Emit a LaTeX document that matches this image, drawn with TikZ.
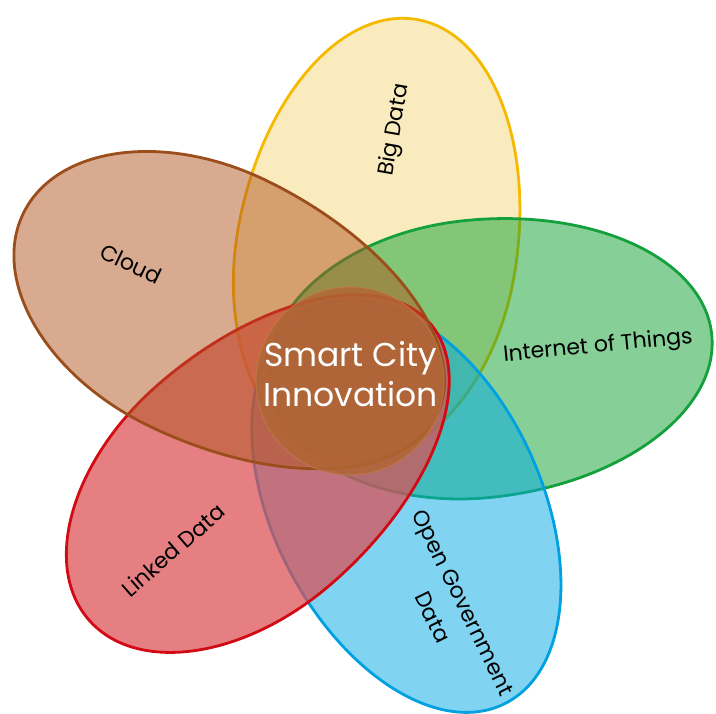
\documentclass[tikz,border=0pt]{standalone}
\usepackage{fontspec}
\setmainfont{Poppins}
\definecolor{ydraw}{RGB}{245,185,0}
\definecolor{yfill}{RGB}{245,215,125}
\definecolor{gdraw}{RGB}{20,160,60}
\definecolor{gfill}{RGB}{13,161,49}
\definecolor{bdraw}{RGB}{0,160,225}
\definecolor{bfill}{RGB}{1,169,229}
\definecolor{rdraw}{RGB}{210,10,20}
\definecolor{rfill}{RGB}{220,78,82}
\definecolor{cdraw}{RGB}{155,78,27}
\definecolor{cfill}{RGB}{177,85,31}
\definecolor{hubfill}{RGB}{176,102,52}
\definecolor{hubdraw}{RGB}{190,125,75}
\tikzset{
  petalstyle/.style={line width=2.8pt, fill opacity=0.5, draw opacity=1, line join=round},
  lbl/.style={font=\fontsize{22}{34}\selectfont, text=black, inner sep=0pt, align=center},
  hubtxt/.style={font=\fontsize{33}{40}\selectfont, text=white, inner sep=0pt, anchor=base},
}
% #1,#2 widest point; #3 angle of outer tip; #4 outer length; #5 inner length; #6 half width; #7 line; #8 fill; #9 fill opacity
\newcommand\drawpetal[9]{%
  \begin{scope}[shift={(#1,#2)}, rotate=#3]
    \path[petalstyle, draw=#7, fill=#8, fill opacity=#9] (0,#6)
      arc[start angle=90, end angle=270, x radius=#5, y radius=#6]
      arc[start angle=270, end angle=450, x radius=#4, y radius=#6] -- cycle;
  \end{scope}}
\begin{document}
\begin{tikzpicture}[x=1pt, y=1pt]
\useasboundingbox (0,0) rectangle (716,714);
% petals, bottom to top
\drawpetal{376}{461}{80}{237}{210}{140}{ydraw}{yfill}{0.5}
\drawpetal{478}{355}{6}{235}{210}{139}{gdraw}{gfill}{0.5}
\drawpetal{405}{212}{-63.8}{225}{215}{134}{bdraw}{bfill}{0.5}
\drawpetal{245}{230}{221}{207}{245}{132}{rdraw}{rfill}{0.72}
\drawpetal{207.6}{410.8}{154}{205}{255}{136}{cdraw}{cfill}{0.5}
% hub
\fill[hubfill, opacity=0.82] (350,333) circle[radius=94];
\draw[hubdraw, opacity=0.6, line width=1.2pt] (350,333) circle[radius=94];
\node[hubtxt] (hubA) at (350.5,347) {Smart City};
\node[hubtxt] (hubB) at (350.5,307) {Innovation};
% labels
\node[lbl, rotate=80] (bigdata) at (395,584) {Big Data};
\node[lbl, rotate=-25.5] (cloud) at (131,450) {Cloud};
\node[lbl, rotate=5.6] (iot) at (598,367) {Internet of Things};
\node[lbl, rotate=-64] (ogd) at (448,104) {Open Government\\Data};
\node[lbl, rotate=41] (linked) at (173,164) {Linked Data};
\end{tikzpicture}
\end{document}
